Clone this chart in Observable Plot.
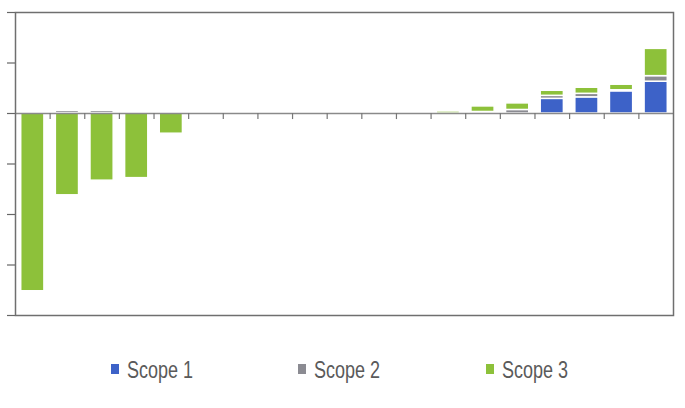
<!DOCTYPE html>
<html>
<head>
<meta charset="utf-8">
<script src="https://cdn.jsdelivr.net/npm/d3@7"></script>
<script src="https://cdn.jsdelivr.net/npm/@observablehq/plot@0.6"></script>
<style>
  body { margin: 0; background: #fff; font-family: "Liberation Sans", Arial, sans-serif; position: relative; width: 685px; height: 408px; }
  .sw { position: absolute; width: 8px; height: 10px; }
  .lt { position: absolute; font-size: 18px; line-height: 18px; color: #5a5a5a; white-space: nowrap;
        transform: scaleY(1.3); transform-origin: 0 15.2px; }
</style>
</head>
<body>
<div id="chart"></div>
<script>
const categories = ["C1","C2","C3","C4","C5","C6","C7","C8","C9","C10","C11","C12","C13","C14","C15","C16","C17","C18","C19"];
const scopes = ["Scope 1", "Scope 2", "Scope 3"];
const scope1 = [0, 0, 0, 0, 0, 0, 0, 0, 0, 0, 0, 0, 0, 0, 0, 0.29, 0.32, 0.44, 0.63];
const scope2 = [0.03, 0.05, 0.05, 0.01, 0, 0, 0, 0, 0, 0, 0, 0, 0, 0.03, 0.07, 0.06, 0.07, 0.02, 0.11];
const scope3 = [-3.52, -1.62, -1.33, -1.28, -0.4, 0, 0, 0, 0, 0, 0, 0, 0.04, 0.11, 0.13, 0.1, 0.12, 0.11, 0.54];
const yTicks = [-4, -3, -2, -1, 0, 1, 2];
const colors = ["#3d62c8", "#8b8b92", "#8dc13a"];

const series = [scope1, scope2, scope3];
const data = [];
categories.forEach((c, i) => scopes.forEach((s, j) => data.push({cat: c, scope: s, value: series[j][i]})));

const W = 685, H = 330, mL = 15, mR = 12, mT = 12, mB = 15;
const step = (W - mL - mR) / categories.length;

const chart = Plot.plot({
  width: W, height: H,
  marginLeft: mL, marginRight: mR, marginTop: mT, marginBottom: mB,
  x: {domain: categories, paddingInner: 0.33, paddingOuter: 0.165, round: false, axis: null},
  y: {domain: [-4, 2], ticks: yTicks, tickSize: 8, tickFormat: () => "", label: null},
  color: {domain: scopes, range: colors},
  marks: [
    Plot.barY(data, {x: "cat", y: "value", fill: "scope", stroke: "white", strokeWidth: 1.5, order: scopes}),
    Plot.ruleY([0], {stroke: "#8a8a8a", strokeWidth: 1.5}),
    Plot.ruleX(categories.slice(0, -1), {x: d => d, y1: 0, y2: -0.12, dx: step / 2, stroke: "#777", strokeWidth: 1.2}),
    Plot.axisY({ticks: yTicks, tickSize: 8, tickFormat: () => "", stroke: "#666", strokeWidth: 1.2}),
    Plot.frame({stroke: "#6f6f6f", strokeWidth: 1.5})
  ]
});
document.getElementById("chart").appendChild(chart);

const lx = [111, 298, 486];
scopes.forEach((s, j) => {
  const sw = document.createElement("div");
  sw.className = "sw";
  sw.style.left = lx[j] + "px";
  sw.style.top = "364px";
  sw.style.background = colors[j];
  document.body.appendChild(sw);
  const t = document.createElement("div");
  t.className = "lt";
  t.style.left = (lx[j] + 16) + "px";
  t.style.top = "362.8px";
  t.textContent = s;
  document.body.appendChild(t);
});
</script>
</body>
</html>
